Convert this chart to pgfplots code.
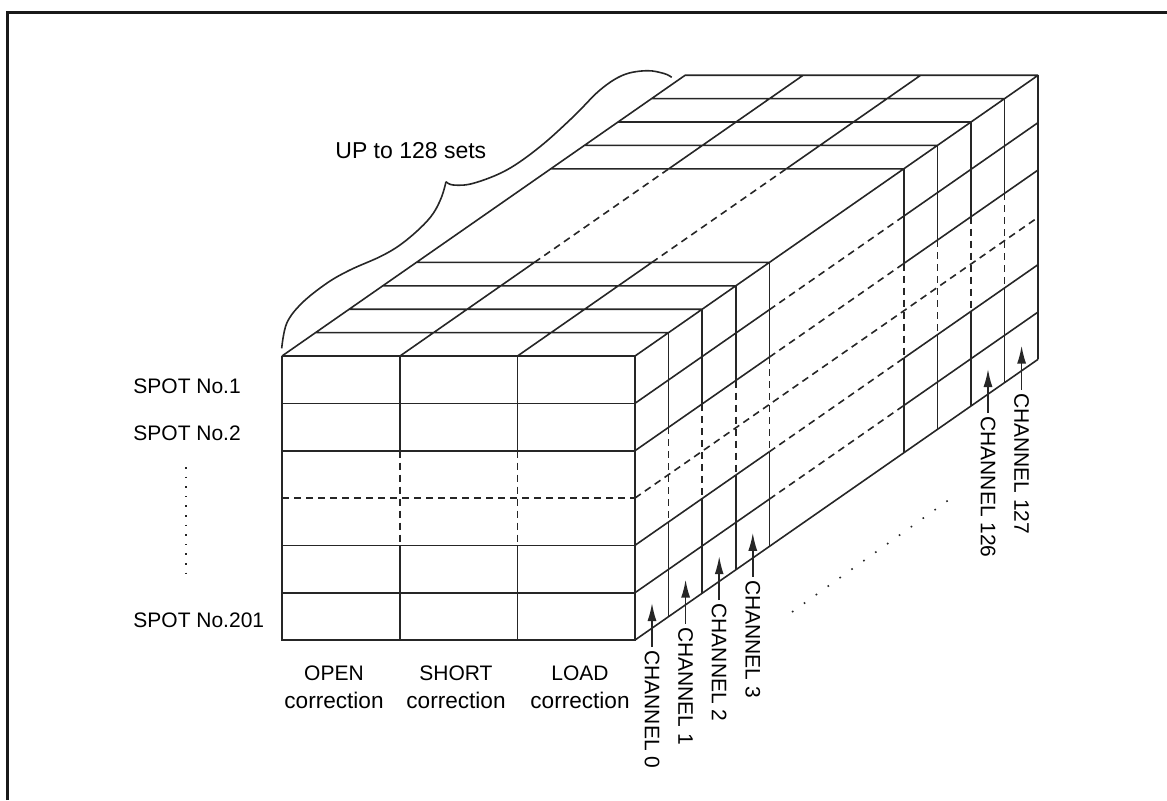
\documentclass[border=0pt]{standalone}
\usepackage{fontspec}
\setmainfont{Liberation Sans}
\usepackage{pgfplots}
\pgfplotsset{compat=1.18}
\usetikzlibrary{arrows.meta}

\pgfplotsset{
  ln/.style={line width=0.8pt, black!85},
  dsh/.style={ln, dash pattern=on 3.5pt off 2.5pt},
  arr/.style={ln, -{Latex[length=9pt,width=4.5pt]}},
}
\newcommand{\lab}{\fontsize{10.5}{12}\selectfont}

\begin{document}
\begin{tikzpicture}
\begin{axis}[
  x=0.5pt, y=0.5pt, y dir=reverse,
  xmin=0, xmax=1167, ymin=0, ymax=800,
  hide axis, clip=false,
  unbounded coords=jump,
]

% frame (only top and left edge are in view)
\addplot[line width=1.5pt, black!90] coordinates {(7.5,800) (7.5,12) (1167,12)};

% ---------------- front face ----------------
\addplot[ln] coordinates {
  (282,356) (635,356) (635,640) (282,640) (282,356) (nan,nan)
  (282,403.3) (635,403.3) (nan,nan)
  (282,450.7) (635,450.7) (nan,nan)
  (282,545.3) (635,545.3) (nan,nan)
  (282,592.7) (635,592.7) (nan,nan)
  (400,356) (400,450.7) (nan,nan) (400,545.3) (400,640) (nan,nan)
  (517.5,356) (517.5,450.7) (nan,nan) (517.5,545.3) (517.5,640)
};
\addplot[dsh] coordinates {
  (282,498) (635,498) (nan,nan)
  (400,450.7) (400,545.3) (nan,nan)
  (517.5,450.7) (517.5,545.3)
};

% ---------------- top face ----------------
\addplot[ln] coordinates {
  (282,356) (685.2,75.2) (nan,nan)
  (635,356) (1038.2,75.2) (nan,nan)
  (400,356) (534.4,262.4) (nan,nan) (668.8,168.8) (803.2,75.2) (nan,nan)
  (517.5,356) (651.9,262.4) (nan,nan) (786.3,168.8) (920.7,75.2) (nan,nan)
  (315.6,332.6) (668.6,332.6) (nan,nan)
  (349.2,309.2) (702.2,309.2) (nan,nan)
  (382.8,285.8) (735.8,285.8) (nan,nan)
  (416.4,262.4) (769.4,262.4) (nan,nan)
  (550.8,168.8) (903.8,168.8) (nan,nan)
  (584.4,145.4) (937.4,145.4) (nan,nan)
  (618,122) (971,122) (nan,nan)
  (651.6,98.6) (1004.6,98.6) (nan,nan)
  (685.2,75.2) (1038.2,75.2)
};
\addplot[dsh] coordinates {
  (534.4,262.4) (668.8,168.8) (nan,nan)
  (651.9,262.4) (786.3,168.8)
};

% ---------------- side face: slab verticals ----------------
\addplot[ln] coordinates {
  (668.6,332.6) (668.6,427.3) (nan,nan) (668.6,521.9) (668.6,616.6) (nan,nan)
  (702.2,309.2) (702.2,403.9) (nan,nan) (702.2,498.5) (702.2,593.2) (nan,nan)
  (735.8,285.8) (735.8,380.5) (nan,nan) (735.8,475.1) (735.8,569.8) (nan,nan)
  (769.4,262.4) (769.4,357.1) (nan,nan) (769.4,451.7) (769.4,546.4) (nan,nan)
  (903.8,168.8) (903.8,263.5) (nan,nan) (903.8,358.1) (903.8,452.8) (nan,nan)
  (937.4,145.4) (937.4,240.1) (nan,nan) (937.4,334.7) (937.4,429.4) (nan,nan)
  (971,122) (971,216.7) (nan,nan) (971,311.3) (971,406) (nan,nan)
  (1004.6,98.6) (1004.6,193.3) (nan,nan) (1004.6,287.9) (1004.6,382.6) (nan,nan)
  (1038.2,75.2) (1038.2,359.2)
};
\addplot[dsh] coordinates {
  (668.6,427.3) (668.6,521.9) (nan,nan)
  (702.2,403.9) (702.2,498.5) (nan,nan)
  (735.8,380.5) (735.8,475.1) (nan,nan)
  (769.4,357.1) (769.4,451.7) (nan,nan)
  (903.8,263.5) (903.8,358.1) (nan,nan)
  (937.4,240.1) (937.4,334.7) (nan,nan)
  (971,216.7) (971,311.3) (nan,nan)
  (1004.6,193.3) (1004.6,287.9)
};

% ---------------- side face: rows ----------------
\addplot[ln] coordinates {
  (635,403.3) (769.4,309.7) (nan,nan) (903.8,216.1) (1038.2,122.5) (nan,nan)
  (635,450.7) (769.4,357.1) (nan,nan) (903.8,263.5) (1038.2,169.9) (nan,nan)
  (635,545.3) (769.4,451.7) (nan,nan) (903.8,358.1) (1038.2,264.5) (nan,nan)
  (635,592.7) (769.4,499.1) (nan,nan) (903.8,405.5) (1038.2,311.9) (nan,nan)
  (635,640) (1038.2,359.2)
};
\addplot[dsh] coordinates {
  (769.4,309.7) (903.8,216.1) (nan,nan)
  (769.4,357.1) (903.8,263.5) (nan,nan)
  (635,498) (1038.2,217.2) (nan,nan)
  (769.4,451.7) (903.8,358.1) (nan,nan)
  (769.4,499.1) (903.8,405.5)
};

% ---------------- brace ----------------
\addplot[ln, smooth, tension=0.6] coordinates {
  (281.7,348.3) (286.7,323.3) (301.7,303.3) (326.7,283.3) (350,270)
  (380,256.7) (400,245) (420,228.3) (433.3,213.3) (441.7,196.7) (446,181.7)
};
\addplot[ln, smooth, tension=0.6] coordinates {
  (446,181.7) (453.3,185) (473.3,183.3) (506.7,170) (540,146.7)
  (573.3,116.7) (600,90) (623.3,75) (646.7,70.7) (664,73.5) (671.7,77.3)
};
\node[font=\fontsize{11.5}{13}\selectfont, anchor=base west, inner sep=0]
  at (axis cs:335,158.3) {UP to 128 sets};

% ---------------- dotted ellipses ----------------
\addplot[line width=0.8pt, black!85, dash pattern=on 0.8pt off 4pt] coordinates {(185.7,467) (185.7,577)};
\addplot[line width=0.8pt, black!85, dash pattern=on 0.8pt off 6.5pt] coordinates {(792,612) (950,499)};

% ---------------- spot labels ----------------
\node[font=\lab, anchor=base west, inner sep=0] at (axis cs:133,393) {SPOT No.1};
\node[font=\lab, anchor=base west, inner sep=0] at (axis cs:133,440) {SPOT No.2};
\node[font=\lab, anchor=base west, inner sep=0] at (axis cs:133,627.3) {SPOT No.201};

% ---------------- correction labels ----------------
\node[font=\lab, anchor=base, inner sep=0] at (axis cs:334,680) {OPEN};
\node[font=\lab, anchor=base, inner sep=0] at (axis cs:456,680) {SHORT};
\node[font=\lab, anchor=base, inner sep=0] at (axis cs:580,680) {LOAD};
\node[font=\fontsize{11.3}{13}\selectfont, anchor=base, inner sep=0] at (axis cs:334,708) {correction};
\node[font=\fontsize{11.3}{13}\selectfont, anchor=base, inner sep=0] at (axis cs:456,708) {correction};
\node[font=\fontsize{11.3}{13}\selectfont, anchor=base, inner sep=0] at (axis cs:580,708) {correction};

% ---------------- channel arrows ----------------
\addplot[arr] coordinates {(652,647) (652,603)};
\addplot[arr] coordinates {(685.6,623.6) (685.6,579.6)};
\addplot[arr] coordinates {(719.2,600.2) (719.2,556.2)};
\addplot[arr] coordinates {(752.8,576.8) (752.8,532.8)};
\addplot[arr] coordinates {(988,413) (988,369)};
\addplot[arr] coordinates {(1021.6,389.6) (1021.6,345.6)};
\node[font=\lab, rotate=-90, anchor=west, inner sep=0] at (axis cs:652,650) {CHANNEL 0};
\node[font=\lab, rotate=-90, anchor=west, inner sep=0] at (axis cs:685.6,626.6) {CHANNEL 1};
\node[font=\lab, rotate=-90, anchor=west, inner sep=0] at (axis cs:719.2,603.2) {CHANNEL 2};
\node[font=\lab, rotate=-90, anchor=west, inner sep=0] at (axis cs:752.8,579.8) {CHANNEL 3};
\node[font=\lab, rotate=-90, anchor=west, inner sep=0] at (axis cs:988,416) {CHANNEL 126};
\node[font=\lab, rotate=-90, anchor=west, inner sep=0] at (axis cs:1021.6,392.6) {CHANNEL 127};

\end{axis}
\pgfresetboundingbox
\path (current axis.south west) rectangle (current axis.north east);
\end{tikzpicture}
\end{document}
